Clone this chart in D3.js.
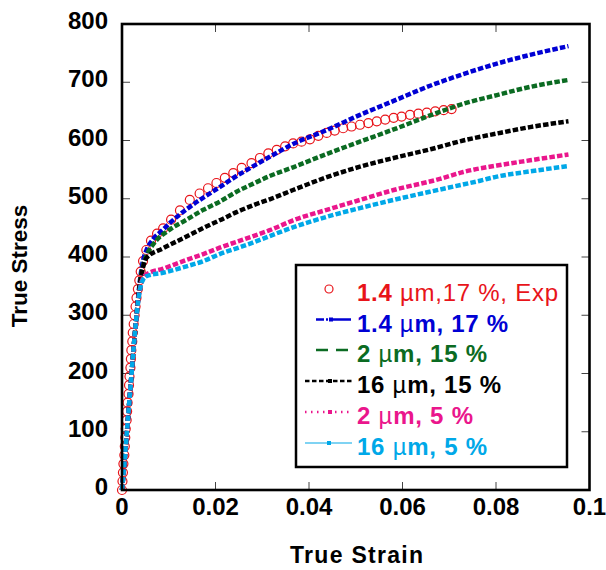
<!DOCTYPE html>
<html>
<head>
<meta charset="utf-8">
<script src="https://cdn.jsdelivr.net/npm/d3@7"></script>
<style>
  body { margin: 0; background: #fff; }
  text { font-family: "Liberation Sans", Arial, sans-serif; }
</style>
</head>
<body>
<div id="chart"></div>
<script>
// tick values
var xTicks = [0, 0.02, 0.04, 0.06, 0.08, 0.1];
var yTicks = [0, 100, 200, 300, 400, 500, 600, 700, 800];

// experiment, 1.4 um 17 % : [strain, stress]
var expData = [
    [0, 0], [0.0001, 15], [0.0002, 30], [0.0003, 45], [0.0005, 60], [0.0006, 75],
    [0.0007, 90], [0.0008, 105], [0.001, 120], [0.0011, 135], [0.0012, 150],
    [0.0014, 165], [0.0015, 180], [0.0016, 195], [0.0018, 210], [0.0019, 225],
    [0.002, 240], [0.0022, 255], [0.0023, 270], [0.0025, 285], [0.0027, 300],
    [0.0029, 315], [0.0031, 330], [0.0034, 345], [0.0037, 360], [0.004, 375],
    [0.0045, 393], [0.0052, 412], [0.0062, 428], [0.0075, 440], [0.0088, 449],
    [0.0105, 464], [0.0124, 480], [0.0145, 498], [0.0166, 509], [0.0184, 518],
    [0.0202, 527], [0.022, 536], [0.0238, 544], [0.0256, 553], [0.0277, 561],
    [0.0295, 570], [0.0313, 578], [0.0331, 584], [0.0349, 590], [0.0366, 595],
    [0.0384, 598], [0.0402, 602], [0.042, 608], [0.0438, 613], [0.0455, 617],
    [0.0473, 621], [0.0491, 624], [0.0509, 627], [0.0527, 630], [0.0545, 633],
    [0.0563, 636], [0.0581, 639], [0.0598, 641], [0.0616, 644], [0.0634, 646],
    [0.0652, 648], [0.067, 650], [0.0688, 652], [0.0705, 654]
];

// simulations : [strain, stress]
var sim14_17 = [
    [0, 0], [0.0005, 45], [0.001, 95], [0.0015, 145], [0.002, 195], [0.0025, 245],
    [0.003, 290], [0.0035, 335], [0.004, 370], [0.0045, 394], [0.0052, 411],
    [0.0066, 430], [0.0088, 447], [0.0102, 458], [0.0138, 482], [0.0174, 502],
    [0.0209, 520], [0.0245, 539], [0.0281, 556], [0.0316, 572], [0.0366, 594],
    [0.0438, 618], [0.0509, 644], [0.0581, 668], [0.0659, 694], [0.073, 714],
    [0.0802, 732], [0.0873, 747], [0.0955, 762]
];
var sim2_15 = [
    [0, 0], [0.0005, 45], [0.001, 95], [0.0015, 145], [0.002, 195], [0.0025, 245],
    [0.003, 290], [0.0035, 332], [0.004, 365], [0.0045, 385], [0.0052, 402],
    [0.0066, 421], [0.0102, 447], [0.0138, 464], [0.0174, 481], [0.0209, 495],
    [0.0245, 512], [0.0281, 526], [0.0316, 539], [0.0366, 554], [0.0438, 577],
    [0.0509, 598], [0.0581, 619], [0.0659, 643], [0.073, 663], [0.0802, 678],
    [0.0873, 692], [0.0955, 704]
];
var sim16_15 = [
    [0, 0], [0.0005, 45], [0.001, 95], [0.0015, 145], [0.002, 195], [0.0025, 245],
    [0.003, 290], [0.0035, 330], [0.004, 362], [0.0045, 382], [0.0052, 398],
    [0.0088, 415], [0.0138, 435], [0.0174, 450], [0.0209, 463], [0.0245, 477],
    [0.0281, 489], [0.0316, 499], [0.0366, 515], [0.0438, 537], [0.0509, 555],
    [0.0581, 570], [0.066, 585], [0.073, 600], [0.0802, 612], [0.0873, 623],
    [0.0955, 633]
];
var sim2_5 = [
    [0, 0], [0.0005, 45], [0.001, 95], [0.0015, 145], [0.002, 195], [0.0025, 245],
    [0.003, 290], [0.0035, 328], [0.004, 352], [0.0045, 364], [0.0052, 370],
    [0.0088, 380], [0.0138, 395], [0.0174, 405], [0.0209, 416], [0.0245, 426],
    [0.0281, 436], [0.0316, 446], [0.0366, 463], [0.0438, 481], [0.0509, 498],
    [0.0581, 515], [0.068, 534], [0.073, 546], [0.0802, 557], [0.0873, 566],
    [0.0955, 576]
];
var sim16_5 = [
    [0, 0], [0.0005, 45], [0.001, 95], [0.0015, 145], [0.002, 195], [0.0025, 245],
    [0.003, 290], [0.0035, 326], [0.004, 350], [0.0045, 361], [0.0052, 367],
    [0.0088, 373], [0.0138, 384], [0.0174, 393], [0.0209, 405], [0.0245, 415],
    [0.0281, 425], [0.0316, 436], [0.0352, 447], [0.0438, 469], [0.0509, 484],
    [0.0581, 498], [0.0681, 516], [0.0766, 531], [0.0802, 538], [0.0873, 547],
    [0.0955, 556]
];

var series = [
    {name: "1.4 µm, 17 %", data: sim14_17, color: "#0000d4"},
    {name: "2 µm, 15 %", data: sim2_15, color: "#0b6b22"},
    {name: "16 µm, 15 %", data: sim16_15, color: "#000000"},
    {name: "2 µm, 5 %", data: sim2_5, color: "#ea168c"},
    {name: "16 µm, 5 %", data: sim16_5, color: "#00a8e8"}
];
var expColor = "#e8141a";

var width = 606, height = 570;
var margin = {left: 122, top: 24, right: 16, bottom: 80};

var svg = d3.select("#chart").append("svg")
    .attr("width", width)
    .attr("height", height);

var x = d3.scaleLinear().domain([0, 0.1]).range([margin.left, 589.5]);
var y = d3.scaleLinear().domain([0, 800]).range([490, margin.top]);

var plot = svg.append("g");

/* inner ticks on all four sides */
var tickLen = 8;
var innerX = [0.02, 0.04, 0.06, 0.08];
var innerY = [100, 200, 300, 400, 500, 600, 700];
innerX.forEach(function (v) {
    plot.append("line").attr("x1", x(v)).attr("x2", x(v))
        .attr("y1", y(0)).attr("y2", y(0) - tickLen)
        .attr("stroke", "#444").attr("stroke-width", 1);
    plot.append("line").attr("x1", x(v)).attr("x2", x(v))
        .attr("y1", y(800)).attr("y2", y(800) + tickLen)
        .attr("stroke", "#444").attr("stroke-width", 1);
});
innerY.forEach(function (v) {
    plot.append("line").attr("x1", x(0)).attr("x2", x(0) + tickLen)
        .attr("y1", y(v)).attr("y2", y(v))
        .attr("stroke", "#444").attr("stroke-width", 1);
    plot.append("line").attr("x1", x(0.1)).attr("x2", x(0.1) - tickLen)
        .attr("y1", y(v)).attr("y2", y(v))
        .attr("stroke", "#444").attr("stroke-width", 1);
});

/* tick labels */
svg.selectAll(".xlab").data(xTicks).enter().append("text")
    .attr("x", function (d) { return x(d); })
    .attr("y", 515)
    .attr("text-anchor", "middle")
    .style("font-size", "24px").style("font-weight", "bold")
    .text(function (d) { return d === 0 ? "0" : d3.format("~g")(d); });

svg.selectAll(".ylab").data(yTicks).enter().append("text")
    .attr("x", 108)
    .attr("y", function (d) { return y(d) + 5; })
    .attr("text-anchor", "end")
    .style("font-size", "24px").style("font-weight", "bold")
    .text(function (d) { return d; });

/* axis titles */
svg.append("text")
    .attr("x", 290).attr("y", 563)
    .attr("textLength", 133).attr("lengthAdjust", "spacing")
    .style("font-size", "23px").style("font-weight", "bold")
    .text("True Strain");

svg.append("text")
    .attr("transform", "translate(27,266) rotate(-90)")
    .attr("text-anchor", "middle")
    .style("font-size", "22.5px").style("font-weight", "bold")
    .text("True Stress");

/* data */
var line = d3.line()
    .x(function (d) { return x(d[0]); })
    .y(function (d) { return y(d[1]); })
    .curve(d3.curveMonotoneX);

plot.selectAll(".exp").data(expData).enter().append("circle")
    .attr("cx", function (d) { return x(d[0]); })
    .attr("cy", function (d) { return y(d[1]); })
    .attr("r", 4.5)
    .attr("fill", "none")
    .attr("stroke", expColor)
    .attr("stroke-width", 1.2);

series.forEach(function (s) {
    plot.append("path")
        .datum(s.data)
        .attr("d", line)
        .attr("fill", "none")
        .attr("stroke", s.color)
        .attr("stroke-width", 4.5)
        .attr("stroke-dasharray", "5.5,2.2");
});

/* frame */
svg.append("rect")
    .attr("x", x(0)).attr("y", y(800))
    .attr("width", x(0.1) - x(0)).attr("height", y(0) - y(800))
    .attr("fill", "none").attr("stroke", "#000").attr("stroke-width", 2.6);

/* legend */
var legend = svg.append("g");
legend.append("rect")
    .attr("x", 296).attr("y", 265).attr("width", 271).attr("height", 202)
    .attr("fill", "#fff").attr("stroke", "#000").attr("stroke-width", 2.5);

var rowBase = [301, 331.5, 362, 393, 424, 455];
var rowWidth = [201, 151, 130, 144, 116, 130];
var textX = 357;

legend.append("circle")
    .attr("cx", 329).attr("cy", rowBase[0] - 12).attr("r", 4)
    .attr("fill", "none").attr("stroke", expColor).attr("stroke-width", 1.2);
var t0 = legend.append("text").attr("x", textX).attr("y", rowBase[0])
    .attr("textLength", rowWidth[0]).attr("lengthAdjust", "spacing")
    .attr("fill", expColor).style("font-size", "24px");
t0.append("tspan").style("font-weight", "bold").text("1.4");
t0.append("tspan").text(" µm,17 %, Exp");

var legendLines = [
    {x1: 316, x2: 351, dash: "8,2,2,2,14,0", marker: 331},
    {x1: 316, x2: 351, dash: "12,8", marker: null},
    {x1: 305, x2: 352, dash: "4.5,2.5", marker: 330},
    {x1: 305, x2: 351, dash: "1.5,4.5", marker: 330},
    {x1: 305, x2: 352, dash: null, marker: 329}
];

series.forEach(function (s, i) {
    var yy = rowBase[i + 1] - 12;
    var ll = legendLines[i];
    var ln = legend.append("line")
        .attr("x1", ll.x1).attr("x2", ll.x2)
        .attr("y1", yy).attr("y2", yy)
        .attr("stroke", s.color)
        .attr("stroke-width", i === 4 ? 1.2 : 2.4);
    if (ll.dash) ln.attr("stroke-dasharray", ll.dash);
    if (ll.marker) {
        legend.append("rect")
            .attr("x", ll.marker - 2).attr("y", yy - 2)
            .attr("width", 4).attr("height", 4)
            .attr("fill", s.color);
    }
    var parts = s.name.split(" µm");
    var t = legend.append("text").attr("x", textX).attr("y", rowBase[i + 1])
        .attr("textLength", rowWidth[i + 1]).attr("lengthAdjust", "spacing")
        .attr("fill", s.color).style("font-size", "24px").style("font-weight", "bold");
    t.append("tspan").text(parts[0] + " ");
    t.append("tspan").style("font-weight", "normal").text("µ");
    t.append("tspan").text("m" + parts[1]);
});
</script>
</body>
</html>
